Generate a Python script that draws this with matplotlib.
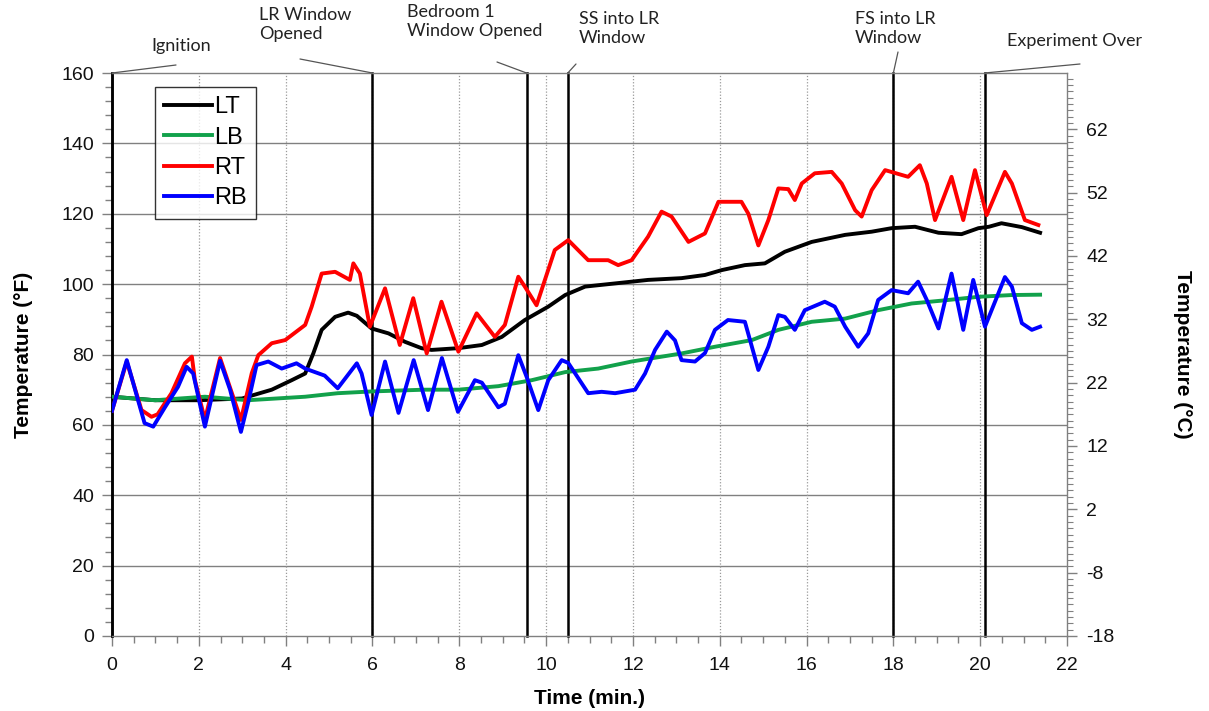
import matplotlib
matplotlib.use("Agg")
import matplotlib.pyplot as plt
from matplotlib.ticker import FixedLocator, MultipleLocator

plt.rcParams["font.family"] = ["Liberation Sans", "DejaVu Sans"]

# --- data (time in min, temperature in F) ---
lt_t = [0, 1, 2, 3, 3.13, 3.68, 4.14, 4.45, 4.64, 4.83, 5.14, 5.44, 5.64, 5.98, 6.37,
        6.75, 7.13, 7.36, 7.98, 8.52, 8.98, 9.51, 10.05, 10.44, 10.9, 11.59, 12.35,
        13.12, 13.66, 14.05, 14.58, 15.04, 15.5, 16.12, 16.89, 17.5, 17.96, 18.5,
        19.04, 19.57, 19.96, 20.2, 20.49, 20.96, 21.38]
lt_f = [68, 67, 67, 67.5, 68, 70, 72.7, 74.6, 80.4, 87, 90.7, 91.9, 91, 87.4, 86,
        83.6, 81.8, 81.3, 81.8, 82.7, 85, 89.8, 93.6, 96.9, 99.3, 100.2, 101.2,
        101.7, 102.6, 104, 105.4, 105.9, 109.2, 112, 114, 114.9, 115.9, 116.3,
        114.6, 114.2, 115.9, 116.3, 117.3, 116.2, 114.6]

lb_t = [0, 0.99, 2.14, 3.13, 4.45, 5.2, 5.98, 7.19, 7.98, 8.9, 9.67, 10.44, 11.2,
        11.97, 13.12, 13.89, 14.74, 15.35, 16.12, 16.89, 17.65, 18.42, 19.19,
        19.96, 20.73, 21.38]
lb_f = [68, 67, 68, 67, 68, 69, 69.5, 70, 70, 71, 72.7, 75, 76, 78, 80.3, 82.2,
        84.1, 87, 89.3, 90.2, 92.6, 94.5, 95.4, 96.4, 96.9, 97]

rt_t = [0, 0.34, 0.68, 0.91, 1.05, 1.37, 1.68, 1.84, 1.91, 2.14, 2.49, 2.97, 3.22,
        3.37, 3.68, 3.99, 4.14, 4.45, 4.6, 4.83, 5.14, 5.48, 5.56, 5.71, 5.94,
        6.29, 6.63, 6.94, 7.25, 7.59, 7.98, 8.4, 8.82, 9.05, 9.36, 9.51, 9.78,
        10.2, 10.51, 10.97, 11.43, 11.66, 11.97, 12.35, 12.66, 12.89, 13.28,
        13.66, 13.97, 14.5, 14.66, 14.89, 15.12, 15.35, 15.58, 15.73, 15.89,
        16.19, 16.58, 16.81, 17.12, 17.27, 17.5, 17.81, 18.34, 18.61, 18.77,
        18.96, 19.34, 19.61, 19.88, 20.15, 20.57, 20.73, 21.03, 21.34]
rt_f = [64, 78, 64.2, 62.3, 63, 69, 77.5, 79.4, 72.7, 61.5, 79, 61.4, 74.7, 79.8,
        83.2, 84.1, 85.5, 88.4, 93.6, 103, 103.5, 101.2, 105.9, 103, 87.9, 98.8,
        82.7, 96, 80.3, 95, 80.8, 91.7, 85, 88.4, 102.1, 99.3, 94, 109.7, 112.5,
        106.8, 106.8, 105.4, 106.8, 113.5, 120.6, 119.2, 112, 114.4, 123.4,
        123.4, 120, 111, 118.2, 127.2, 127, 123.9, 128.6, 131.5, 131.9, 128.6,
        121, 119.2, 126.7, 132.4, 130.5, 133.8, 128.6, 118.2, 130.5, 118.2,
        132.4, 119.6, 131.9, 128.6, 118.2, 116.8]

rb_t = [0, 0.34, 0.6, 0.75, 0.95, 1.22, 1.52, 1.72, 1.87, 2.14, 2.49, 2.72, 2.97,
        3.13, 3.33, 3.6, 3.91, 4.25, 4.45, 4.9, 5.2, 5.64, 5.75, 5.98, 6.29, 6.6,
        6.95, 7.28, 7.6, 7.97, 8.36, 8.52, 8.9, 9.05, 9.36, 9.55, 9.82, 10.05,
        10.36, 10.51, 10.97, 11.28, 11.59, 12.05, 12.28, 12.51, 12.78, 12.97,
        13.12, 13.43, 13.66, 13.89, 14.19, 14.58, 14.89, 15.12, 15.35, 15.5,
        15.73, 15.96, 16.42, 16.65, 16.89, 17.19, 17.42, 17.65, 17.96, 18.34,
        18.57, 18.77, 19.04, 19.34, 19.61, 19.84, 20.11, 20.57, 20.73, 20.96,
        21.19, 21.38]
rb_f = [64, 78.4, 67, 60.5, 59.5, 65, 70.8, 76.5, 74.6, 59.5, 78.2, 70, 58, 66, 77,
        78, 76, 77.5, 76, 74, 70.4, 77.5, 74.6, 62.8, 78, 63.4, 78.4, 64.2, 79,
        63.7, 72.7, 72, 65, 66, 79.8, 73.7, 64.2, 72.7, 78.4, 77.6, 69, 69.4, 69,
        70, 74.6, 81.3, 86.5, 84, 78.4, 78, 80.4, 87, 89.8, 89.3, 75.6, 82.2,
        91.2, 90.7, 87, 92.6, 95, 93.6, 87.9, 82.2, 86, 95.5, 98.3, 97.4, 100.7,
        95.5, 87.4, 103, 87, 101.2, 87.9, 102, 99.3, 88.9, 87, 87.9]

series = [("LT", lt_t, lt_f, "#000000"),
          ("LB", lb_t, lb_f, "#12a14b"),
          ("RT", rt_t, rt_f, "#ff0000"),
          ("RB", rb_t, rb_f, "#0000ff")]

event_times = [0, 6, 9.55, 10.5, 18, 20.1]
event_labels = ["Ignition", "LR Window\nOpened", "Bedroom 1\nWindow Opened",
                "SS into LR\nWindow", "FS into LR\nWindow", "Experiment Over"]
# text top-left corner and line end, in image pixels (from top)
event_text_pos = [(151, 38), (259, 7), (407, 4), (579, 11), (855, 11), (1007, 33)]
event_line_end = [(176, 65), (300, 59), (497, 62), (576, 64), (898, 52), (1080, 64)]

W, H = 1209, 711
fig = plt.figure(figsize=(W / 100, H / 100), dpi=100, facecolor="white")
ax = fig.add_axes([112 / W, 1 - 636 / H, (1067 - 112) / W, (636 - 73) / H])

grey = "#808080"
ax.set_xlim(0, 22)
ax.set_ylim(0, 160)
ax.xaxis.set_major_locator(MultipleLocator(2))
ax.xaxis.set_minor_locator(MultipleLocator(0.5))
ax.yaxis.set_major_locator(MultipleLocator(20))
ax.yaxis.set_minor_locator(MultipleLocator(4))

for yv in range(20, 160, 20):
    ax.axhline(yv, color=grey, lw=1.0, zorder=1)
for xv in range(2, 22, 2):
    ax.axvline(xv, color="#9a9a9a", lw=0.9, ls=(0, (1, 1.5)), zorder=1)

for t in event_times:
    ax.axvline(t, color="#000000", lw=1.8, zorder=2, clip_on=False)

for name, tt, ff, col in series:
    ax.plot(tt, ff, color=col, lw=2.8, label=name, zorder=3, solid_joinstyle="round")

for sp in ax.spines.values():
    sp.set_color(grey)
    sp.set_linewidth(1.0)
ax.spines["left"].set_color("#000000")
ax.spines["left"].set_linewidth(1.8)

ax.tick_params(axis="both", which="major", direction="out", length=7, width=1,
               color=grey, labelsize=14, labelcolor="#111111")
ax.tick_params(axis="both", which="minor", direction="out", length=5, width=1, color=grey)
ax.tick_params(axis="y", pad=6)
ax.tick_params(axis="x", pad=8)

ax.set_xlabel("Time (min.)", fontsize=15, fontweight="bold")
ax.xaxis.set_label_coords(0.5, -0.095)
ax.set_ylabel("Temperature (°F)", fontsize=15, fontweight="bold")
ax.yaxis.set_label_coords(-0.083, 0.5)

# right axis in Celsius
ax2 = ax.twinx()
c_lo = (0 - 32) * 5 / 9
c_hi = (160 - 32) * 5 / 9
ax2.set_ylim(c_lo, c_hi)
major_c = [c_lo + 10 * k for k in range(9)]
ax2.yaxis.set_major_locator(FixedLocator(major_c))
ax2.yaxis.set_minor_locator(FixedLocator([c_lo + k for k in range(89)]))
ax2.set_yticklabels([f"{v:.0f}" for v in major_c])
ax2.tick_params(axis="y", which="major", direction="out", length=7, width=1,
                color=grey, labelsize=14, labelcolor="#111111", pad=7)
ax2.tick_params(axis="y", which="minor", direction="out", length=4, width=0.8, color=grey)
for sp in ax2.spines.values():
    sp.set_visible(False)
ax2.set_ylabel("Temperature (°C)", fontsize=15, fontweight="bold", rotation=270)
ax2.yaxis.set_label_coords(1.131, 0.5)

leg = ax.legend(loc="upper left", bbox_to_anchor=((155 - 112) / 955, (636 - 87) / 563),
                borderaxespad=0, fontsize=17, frameon=True, fancybox=False,
                edgecolor="#000000", handlelength=2.0, handletextpad=0.1,
                labelspacing=0.35, borderpad=0.4)
leg.get_frame().set_linewidth(1.0)
leg.set_zorder(5)

for t, lab, (tx, ty), (lx, ly) in zip(event_times, event_labels, event_text_pos, event_line_end):
    fig.text(tx / W, 1 - ty / H, lab, ha="left", va="top", fontsize=13,
             family=["Lato", "DejaVu Sans"], color="#222222", linespacing=1.2)
    ax.annotate("", xy=(t, 160), xycoords="data",
                xytext=(lx / W, 1 - ly / H), textcoords="figure fraction",
                arrowprops=dict(arrowstyle="-", color="#555555", lw=0.9,
                                shrinkA=0, shrinkB=0),
                annotation_clip=False)

fig.savefig("out.png", dpi=100, facecolor="white")
